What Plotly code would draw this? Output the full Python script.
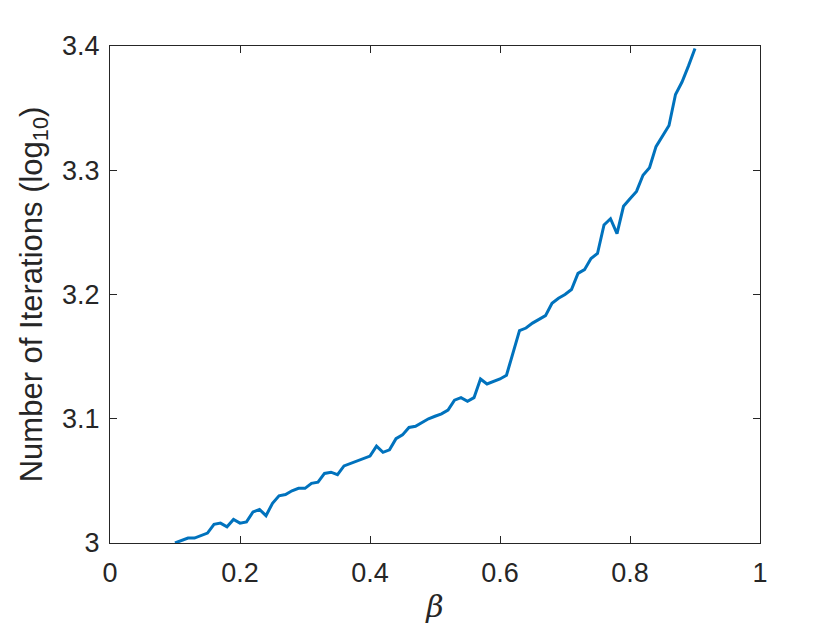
import plotly.graph_objects as go

beta = [round(0.10 + 0.01 * i, 2) for i in range(81)]
iterations_log10 = [
    3.000, 3.002, 3.004, 3.004, 3.006, 3.008, 3.015, 3.016, 3.013, 3.019,
    3.016, 3.017, 3.025, 3.027, 3.022, 3.032, 3.038, 3.039, 3.042, 3.044,
    3.044, 3.048, 3.049, 3.056, 3.057, 3.055, 3.062, 3.064, 3.066, 3.068,
    3.070, 3.078, 3.073, 3.075, 3.084, 3.087, 3.093, 3.094, 3.097, 3.100,
    3.102, 3.104, 3.107, 3.115, 3.117, 3.114, 3.117, 3.132, 3.128, 3.130,
    3.132, 3.135, 3.152, 3.171, 3.173, 3.177, 3.180, 3.183, 3.193, 3.197,
    3.200, 3.204, 3.217, 3.220, 3.229, 3.233, 3.256, 3.261, 3.249, 3.271,
    3.277, 3.283, 3.296, 3.302, 3.319, 3.328, 3.336, 3.361, 3.371, 3.384,
    3.398,
]
x_ticks = [0, 0.2, 0.4, 0.6, 0.8, 1]
x_tick_labels = ["0", "0.2", "0.4", "0.6", "0.8", "1"]
y_ticks = [3, 3.1, 3.2, 3.3, 3.4]
y_tick_labels = ["3", "3.1", "3.2", "3.3", "3.4"]

fig = go.Figure()
fig.add_trace(go.Scatter(
    x=beta, y=iterations_log10, mode="lines",
    line=dict(color="#0072BD", width=3),
    showlegend=False,
))

axis_common = dict(
    showline=True, linecolor="#262626", linewidth=1, mirror="ticks",
    ticks="inside", ticklen=7, tickcolor="#262626", tickwidth=1,
    showgrid=False, zeroline=False, automargin=False,
    tickfont=dict(family="Liberation Sans, Arial", size=27, color="#262626"),
)

fig.update_layout(
    width=840, height=630,
    paper_bgcolor="white", plot_bgcolor="white",
    margin=dict(l=102, r=88, t=38, b=95),
    xaxis=dict(
        range=[0, 1], tickvals=x_ticks, ticktext=x_tick_labels,
        ticklabelstandoff=6,
        title=dict(text="<i>β</i>", font=dict(family="DejaVu Serif", size=30, color="#262626"), standoff=8),
        **axis_common,
    ),
    yaxis=dict(
        range=[3, 3.4], tickvals=y_ticks, ticktext=y_tick_labels,
        ticklabelstandoff=4,
        title=dict(text="Number of Iterations (log<sub>10</sub>)",
                   font=dict(family="Liberation Sans, Arial", size=31, color="#262626"), standoff=10),
        **axis_common,
    ),
)

fig.write_html("out.html")
